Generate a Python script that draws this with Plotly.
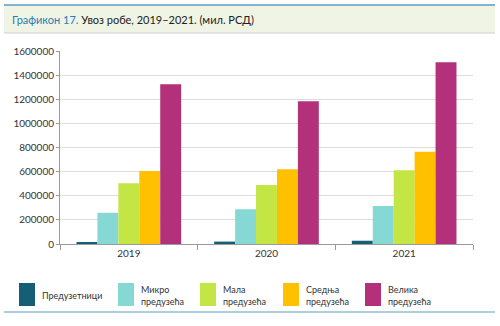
import plotly.graph_objects as go

years = ["2019", "2020", "2021"]
series_names = ["Предузетници", "Микро<br>предузећа", "Мала<br>предузећа", "Средња<br>предузећа", "Велика<br>предузећа"]
values = [
    [15000, 20000, 27000],
    [259000, 288000, 315000],
    [503000, 489000, 611000],
    [605000, 619000, 765000],
    [1324000, 1183000, 1506000],
]
colors = ["#155e75", "#86d8d5", "#c4e645", "#ffc000", "#b3317b"]
y_ticks = [0, 200000, 400000, 600000, 800000, 1000000, 1200000, 1400000, 1600000]

W, H = 500, 326
L, R, T, B = 60, 27, 51, 82
pw, ph = W - L - R, H - T - B

def px2x(px):
    return (px - L) / pw

def py2y(py):
    return (H - B - py) / ph

FONT = "Lato, Open Sans, sans-serif"

fig = go.Figure()
for name, vals, col in zip(series_names, values, colors):
    fig.add_trace(go.Bar(x=years, y=vals, name=name, marker=dict(color=col, line=dict(width=0)),
                         showlegend=False))

shapes = []
annotations = []
# title band
shapes.append(dict(type="rect", xref="paper", yref="paper", x0=px2x(4), x1=px2x(495),
                   y0=py2y(33), y1=py2y(5), fillcolor="#eff4e4", line=dict(width=0), layer="below"))
shapes.append(dict(type="line", xref="paper", yref="paper", x0=px2x(4), x1=px2x(495),
                   y0=py2y(5), y1=py2y(5), line=dict(color="#5b9ec4", width=1.5)))
shapes.append(dict(type="line", xref="paper", yref="paper", x0=px2x(4), x1=px2x(495),
                   y0=py2y(33), y1=py2y(33), line=dict(color="#d0d0d0", width=1)))
# legend bottom line
shapes.append(dict(type="line", xref="paper", yref="paper", x0=px2x(4), x1=px2x(495),
                   y0=py2y(312), y1=py2y(312), line=dict(color="#5b9ec4", width=1.2)))

annotations.append(dict(xref="paper", yref="paper", x=px2x(10), y=py2y(19), xanchor="left", yanchor="middle",
                        showarrow=False,
                        text="<span style='color:#2b7bb5'>Графикон 17.</span> Увоз робе, 2019–2021. (мил. РСД)",
                        font=dict(family=FONT, size=11, color="#222222")))

leg_x = [19, 118, 200, 283, 365]
for lx, name, col in zip(leg_x, series_names, colors):
    shapes.append(dict(type="rect", xref="paper", yref="paper", x0=px2x(lx), x1=px2x(lx + 16),
                       y0=py2y(306), y1=py2y(283), fillcolor=col, line=dict(width=0)))
    annotations.append(dict(xref="paper", yref="paper", x=px2x(lx + 21), y=py2y(295), xanchor="left",
                            yanchor="middle", align="left", showarrow=False, text=name,
                            font=dict(family=FONT, size=9, color="#333333")))

fig.update_layout(
    width=W, height=H,
    margin=dict(l=L, r=R, t=T, b=B),
    paper_bgcolor="white", plot_bgcolor="white",
    barmode="group", bargap=0.24, bargroupgap=0,
    shapes=shapes, annotations=annotations,
    font=dict(family=FONT, size=10, color="#333333"),
)
fig.update_xaxes(type="category", showline=True, linecolor="#9a9a9a", linewidth=1,
                 ticks="outside", tickson="boundaries", ticklen=5, tickcolor="#9a9a9a",
                 showgrid=False, tickfont=dict(size=10, color="#333333"))
fig.update_yaxes(range=[0, 1600000], tickvals=y_ticks, ticktext=[str(v) for v in y_ticks],
                 showline=True, linecolor="#9a9a9a", linewidth=1, ticks="outside", ticklen=3,
                 tickcolor="#9a9a9a", showgrid=True, gridcolor="#dcdcdc", gridwidth=1,
                 zeroline=False, tickfont=dict(size=10, color="#333333"))

fig.write_html("out.html")
